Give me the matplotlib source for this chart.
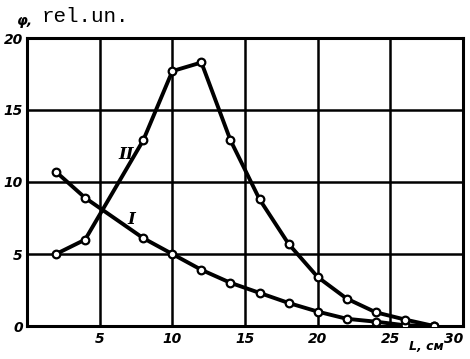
import matplotlib
matplotlib.use("Agg")
import matplotlib.pyplot as plt

L_I = [2, 4, 8, 10, 12, 14, 16, 18, 20, 22, 24, 26, 28]
phi_I = [10.7, 8.9, 6.1, 5.0, 3.9, 3.0, 2.3, 1.6, 1.0, 0.5, 0.3, 0.05, 0.0]

L_II = [2, 4, 8, 10, 12, 14, 16, 18, 20, 22, 24, 26, 28]
phi_II = [5.0, 6.0, 12.9, 17.7, 18.3, 12.9, 8.8, 5.7, 3.4, 1.9, 0.95, 0.45, 0.0]

xticks = [5, 10, 15, 20, 25, 30]
yticks = [0, 5, 10, 15, 20]

fig = plt.figure(figsize=(4.7, 3.59), dpi=100)
ax = fig.add_axes([27/470, 1-326/359, (463-27)/470, (326-38)/359])
ax.set_xlim(0, 29.7)
ax.set_ylim(0, 20)

for v in [5, 10, 15, 20, 25]:
    ax.axvline(v, color='black', lw=1.8, zorder=1)
for v in [5, 10, 15]:
    ax.axhline(v, color='black', lw=1.8, zorder=1)

for s in ax.spines.values():
    s.set_linewidth(2.2)
    s.set_color('black')

mk = dict(marker='o', markersize=5.5, markerfacecolor='white', markeredgecolor='black',
          markeredgewidth=1.6, color='black', lw=2.8, zorder=3)
ax.plot(L_I, phi_I, **mk)
ax.plot(L_II, phi_II, **mk)

tf = dict(fontsize=10, fontweight='bold', fontstyle='italic', family='DejaVu Sans')
ax.set_xticks(xticks)
ax.set_xticklabels([str(t) for t in xticks], **tf)
ax.set_yticks(yticks)
ax.set_yticklabels([str(t) for t in yticks], **tf)
ax.tick_params(length=0, pad=3)
ax.tick_params(axis='x', pad=4)
ax.get_xticklabels()[-1].set_ha('right')

ax.text(6.8, 11.9, 'II', fontsize=12, fontweight='bold', fontstyle='italic', family='DejaVu Serif',
        ha='center', va='center')
ax.text(7.2, 7.4, 'I', fontsize=12, fontweight='bold', fontstyle='italic', family='DejaVu Serif',
        ha='center', va='center')

fig.text(17/470, 1-21/359, 'φ,', fontsize=10, fontweight='bold', fontstyle='italic',
         ha='left', va='center')
fig.text(42/470, 1-16/359, 'rel.un.', fontsize=15, family='Liberation Mono', ha='left', va='center')
fig.text(426/470, 1-347/359, 'L, см', fontsize=9, fontweight='bold', fontstyle='italic',
         ha='center', va='center')

fig.savefig('out.png', dpi=100)
